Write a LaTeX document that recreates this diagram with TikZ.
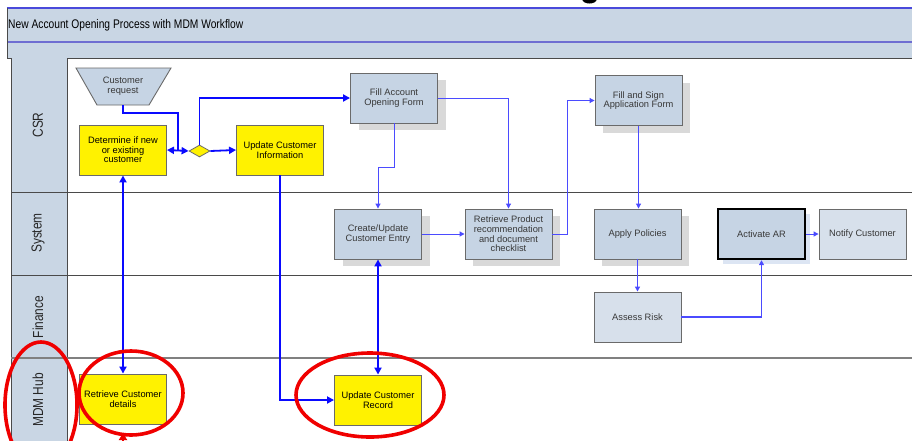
\documentclass[tikz,border=0pt]{standalone}
\usepackage{fontspec}
\setmainfont{Liberation Sans}
\newfontfamily\narrowsf[FakeStretch=0.82]{Liberation Sans}
\usetikzlibrary{shapes.geometric,arrows.meta,shadows}

\definecolor{lanefill}{HTML}{C9D6E4}
\definecolor{boxfill}{HTML}{C6D4E4}
\definecolor{boxlight}{HTML}{D7E0EB}
\definecolor{shadowgray}{HTML}{D9D9D9}
\definecolor{shadowblue}{HTML}{DCE5F3}
\definecolor{edgegray}{HTML}{6A6A6A}
\definecolor{laneline}{HTML}{4A4A4A}
\definecolor{bandblue}{HTML}{4A4ADB}
\definecolor{bandblue2}{HTML}{6E6ED2}
\definecolor{flowblue}{HTML}{0A0AFF}
\definecolor{flowthin}{HTML}{4B4BFF}
\definecolor{markred}{HTML}{F00000}

\tikzset{
  task/.style={rectangle, draw=edgegray, line width=0.9pt, minimum width=87pt,
    minimum height=50pt, inner sep=1pt, align=center,
    font=\fontsize{9.3}{9.6}\selectfont, text=black!78},
  sysbox/.style={task, fill=boxfill,
    drop shadow={shadow xshift=8pt, shadow yshift=-7pt, fill=shadowgray, opacity=1}},
  lightbox/.style={task, fill=boxlight},
  mdmbox/.style={task, fill=yellow, text=black},
  lanelabel/.style={rotate=90, font=\narrowsf\fontsize{14.5}{16}\selectfont, text=black!85},
  flow/.style={draw=flowblue, line width=1.8pt, -{Triangle[length=7pt,width=7pt]}},
  flowboth/.style={draw=flowblue, line width=1.8pt, {Triangle[length=7pt,width=7pt]}-{Triangle[length=7pt,width=7pt]}},
  thinflow/.style={draw=flowthin, line width=1pt, -{Triangle[length=5pt,width=5pt]}},
  redmark/.style={draw=markred, line width=3.6pt},
}

\begin{document}
\begin{tikzpicture}[x=1pt, y=-1pt]
\useasboundingbox (0,0) rectangle (912,440);
\fill[white] (0,0) rectangle (912,440);

% title band
\fill[lanefill] (7,8) rectangle (912,58);
\draw[bandblue, line width=1.2pt] (7,8) -- (912,8);
\draw[bandblue2, line width=1.4pt] (7,42) -- (912,42);
\draw[laneline, line width=0.8pt] (7,8) -- (7,58);
\draw[laneline, line width=1pt] (7,58) -- (912,58);
\node[anchor=west, font=\narrowsf\fontsize{12.5}{14}\selectfont, inner sep=0pt] (title) at (8,25)
  {New Account Opening Process with MDM Workflow};

% heading fragment above the band
\fill[black] (582,-1) .. controls (583,5) and (596,5) .. (597,-1) -- cycle;

% lane header column
\fill[lanefill] (11,58) rectangle (67,445);
\draw[laneline, line width=0.8pt] (11,58) -- (11,445);
\draw[laneline, line width=0.8pt] (67,58) -- (67,445);

% lane separators
\draw[laneline, line width=1pt] (11,192) -- (912,192);
\draw[laneline, line width=1pt] (11,275) -- (912,275);
\draw[black!50, line width=1.5pt] (11,358) -- (912,358);

\node[lanelabel] (lcsr) at (38,125) {CSR};
\node[lanelabel] (lsys) at (38,233) {System};
\node[lanelabel] (lfin) at (38,317) {Finance};
\node[lanelabel] (lmdm) at (38,400) {MDM Hub};

% CSR lane
\fill[boxfill] (76,68) -- (171,68) -- (149,105) -- (97,105) -- cycle;
\draw[edgegray, line width=0.9pt] (76,68) -- (171,68) -- (149,105) -- (97,105) -- cycle;
\node[minimum width=52pt, minimum height=37pt, inner sep=0pt, align=center,
  font=\fontsize{9.3}{9.6}\selectfont, text=black!78] (creq) at (123,86.5) {Customer\\request};

\node[mdmbox] (det) at (123,150) {Determine if new\\or existing\\customer};
\node[diamond, draw=edgegray, fill=yellow, line width=0.8pt, minimum width=21pt,
  minimum height=12pt, inner sep=0pt] (dia) at (199.5,151) {};
\node[mdmbox] (uci) at (280,150) {Update Customer\\Information};
\node[sysbox] (fao) at (394,98) {Fill Account\\Opening Form};
\node[sysbox] (fsa) at (638.5,100.5) {Fill and Sign\\Application Form};

% System lane
\node[sysbox] (cue) at (378,234) {Create/Update\\Customer Entry};
\node[sysbox] (rpr) at (508.5,234) {Retrieve Product\\recommendation\\and document\\checklist};
\node[sysbox] (apl) at (637.5,234) {Apply Policies};
\node[task, fill=boxfill, draw=black, line width=2.4pt,
  drop shadow={shadow xshift=5pt, shadow yshift=-5pt, fill=shadowblue, opacity=1}]
  (aar) at (761.5,234) {Activate AR};
\node[lightbox] (ncu) at (862.5,234) {Notify Customer};

% Finance lane
\node[lightbox] (ars) at (637.5,317) {Assess Risk};

% MDM Hub lane
\node[mdmbox] (rcd) at (123,399) {Retrieve Customer\\details};
\node[mdmbox] (ucr) at (378,400) {Update Customer\\Record};

% connectors
\coordinate (join) at (178,151);
\draw[draw=flowblue, line width=1.8pt] (creq.south) -- ++(0,8) -| (join);
\draw[flowboth] (det.east) -- (dia.west);
\draw[flow] (dia.east) -- (uci.west);
\draw[flow] (dia.north) |- (fao.west);
\draw[thinflow] (fao.south) -- ++(0,44) -| (cue.north);
\draw[thinflow] (fao.east) -| (rpr.north);
\draw[thinflow] (cue.east) -- (rpr.west);
\draw[thinflow] (rpr.east) -- ++(15,0) |- (fsa.west);
\draw[thinflow] (fsa.south) -- (fsa.south |- apl.north);
\draw[thinflow, line width=1.2pt] (apl.south) -- (ars.north);
\draw[thinflow, line width=1.4pt] (ars.east) -| (aar.south);
\draw[thinflow] (aar.east) -- (ncu.west);
\draw[flowboth] (det.south) -- (rcd.north);
\draw[flow] (uci.south) |- (ucr.west);
\draw[flowboth] (cue.south) -- (ucr.north);

% red highlight marks
\draw[redmark] (41,405) ellipse [x radius=36, y radius=63];
\draw[redmark] (131,393) ellipse [x radius=52, y radius=42];
\draw[redmark] (370,395) ellipse [x radius=74, y radius=42];
\coordinate (redtail) at (123,452);
\coordinate (redtip) at (123,433);
\draw[draw=markred, line width=2.5pt, -{Triangle[length=7pt,width=8pt]}] (redtail) -- (redtip);
\end{tikzpicture}
\end{document}
